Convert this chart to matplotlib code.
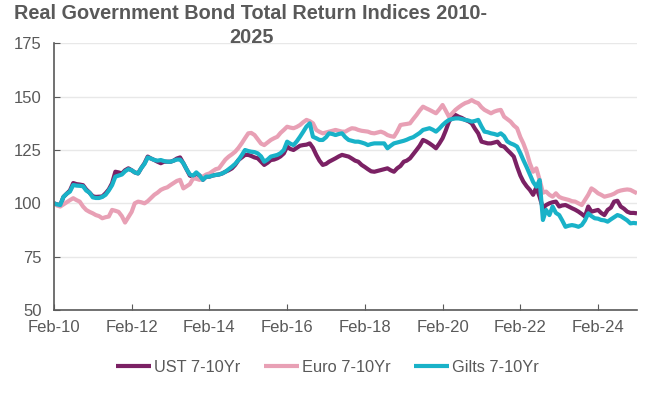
import pandas as pd
import matplotlib
matplotlib.use("Agg")
import matplotlib.pyplot as plt
import matplotlib.dates as mdates

# monthly index levels, Feb-10 .. Feb-25
ust = [100, 99.5, 99.2, 103, 104.5, 106, 109.5, 109, 108.8, 108.5, 106.5, 105,
       103.3, 103, 103.1, 103.2, 104.7, 106.5, 109.4, 114.8, 114.5, 114, 115.5, 116.4,
       115.5, 114.5, 114, 116.5, 118.8, 121.9, 121, 120.3, 119.5, 118.8, 119.5, 119.5,
       119.5, 120, 121, 121.5, 118.8, 116, 113, 112.5, 114, 113, 111, 112.5,
       112.5, 113, 113.3, 113.5, 114, 114.8, 115.5, 116.4, 118, 120.3, 121.5, 122.7,
       122.7, 122.2, 121.5, 121.1, 119.5, 118, 119, 120.3, 120.5, 121.1, 122, 123.4,
       126.6, 125.5, 125, 126, 127, 127.3, 127.5, 128.1, 126, 122.7, 120, 118,
       118.5, 119.5, 120.3, 121.1, 122, 122.7, 122.3, 121.9, 121, 120, 119.5, 118,
       117, 116, 115, 114.8, 115.2, 115.6, 116, 116.4, 115.5, 114.8, 116.4, 117.5,
       119.5, 120, 121.1, 123, 125, 127, 129.7, 129, 128.1, 127, 125.8, 128,
       130.5, 134, 138.3, 140.5, 141.4, 140.6, 140, 139.1, 138.5, 137.5, 135, 132.8,
       128.9, 128.5, 128.1, 128.1, 128.5, 128.9, 127, 126.6, 125, 123.5, 121.9, 117.2,
       113, 110.2, 108, 106.3, 104, 107.5, 103, 97.7, 99.2, 100, 100.5, 100.8,
       98.5, 99, 99.2, 98.5, 97.7, 97, 96.1, 95, 93.8, 98.5, 96.1, 96.5,
       96.9, 95.5, 94.5, 96.9, 98, 100.8, 101.2, 98.5, 97.5, 96.1, 95.5, 95.5,
       95.3]

euro = [100, 99, 98.5, 99.5, 100.5, 101.5, 102.4, 101.5, 100.8, 98.5, 96.9, 96,
        95.3, 94.5, 94, 93, 93.5, 93.8, 96.9, 96.5, 96, 94, 91, 93.5,
        96, 100, 100.8, 100.5, 100, 101, 102.5, 104, 105, 106.3, 107, 107.5,
        108.6, 109.5, 110.5, 111, 107, 108, 109, 111.7, 111.5, 111, 112.5, 113.5,
        114, 115, 116, 116.4, 118.5, 120.5, 121.9, 123, 124.2, 126, 128.1, 130.5,
        132.8, 133, 132, 130, 128, 127.3, 128.5, 129.7, 130.5, 131.2, 133, 134.4,
        135.9, 135.5, 135.2, 135.8, 136.7, 138, 139.1, 138.5, 137.5, 134.4, 133.5, 132.8,
        133.2, 133.6, 134, 134.4, 134, 133.6, 133.6, 134.5, 135.2, 135, 134.4, 134,
        133.8, 133.6, 133, 132.8, 133.2, 133.6, 133, 132, 131.5, 131.2, 133.6, 136.7,
        137, 137.2, 137.5, 139.5, 141.4, 143.5, 145.3, 144.5, 143.8, 143, 142.2, 144,
        146.1, 143.5, 140.6, 142.2, 143.8, 145, 146.1, 147, 147.5, 148.4, 147.5, 146.9,
        145, 143.8, 143, 142.2, 143, 143.5, 143.8, 140.6, 139.5, 138.3, 136.5, 135.2,
        131, 128.1, 124, 118.8, 114.8, 116.4, 111, 105, 105.5, 104, 103.1, 104.7,
        103, 102.4, 102, 101.6, 101, 100.8, 100, 99.2, 101.6, 104, 107, 106,
        104.7, 104, 103.1, 103.5, 103.9, 104.5, 105.5, 106, 106.3, 106.5, 106.3, 105.5,
        104.7]

gilts = [100, 99.5, 99.2, 103, 104.5, 105.5, 108.6, 108.3, 108.2, 108, 106, 105,
         102.8, 102.5, 102.5, 103, 104, 106, 108.5, 112.5, 113, 113.5, 115, 116,
         115.5, 114.5, 114, 116.5, 118.5, 121.5, 121, 120.3, 120, 120.3, 119.8, 119.5,
         119.5, 120, 120.5, 120.5, 118.8, 116, 113.5, 113, 114.5, 113, 111, 112.5,
         112.5, 113, 113.3, 113.5, 114, 114.8, 116, 117.2, 118.5, 120.3, 122.5, 125,
         124.5, 124.2, 124, 123.4, 122, 119.5, 120.5, 121.9, 122.3, 122.7, 123.5, 125,
         128.9, 128, 127.3, 129, 131.2, 133.5, 136, 137.5, 131.2, 130.5, 129.7, 129.7,
         131, 132.8, 132.5, 132, 132.5, 132.8, 131, 129.7, 129.3, 128.9, 128.9, 128.5,
         128, 127.3, 127.8, 128.1, 128.1, 128.1, 128.1, 125.8, 127, 128.1, 128.5, 128.9,
         129.3, 129.8, 130.5, 131, 132, 133, 134.4, 134.8, 135.2, 134.5, 133.6, 135,
         136.7, 138, 139.1, 139.5, 139.8, 139.8, 139.5, 139.1, 138.8, 138.3, 138.6, 139.1,
         136, 133.6, 133.3, 132.8, 132.5, 132, 132.8, 131.5, 129, 128.1, 127.5, 126.6,
         123.5, 120.3, 117, 113.5, 110, 107.8, 110.9, 92.2, 96.9, 94.5, 98.5, 95.5,
         94.5, 92, 89, 89.5, 89.8, 89.5, 89, 89.8, 92, 95.3, 94, 93,
         92.8, 92.2, 92, 91.4, 92.5, 93.5, 94.5, 94, 93, 92, 90.6, 90.8,
         90.6]

dates = pd.date_range("2010-02-01", periods=len(ust), freq="MS")
series_names = ["UST 7-10Yr", "Euro 7-10Yr", "Gilts 7-10Yr"]
colors = ["#7B2164", "#E8A0B5", "#19B2C8"]
grey = "#595959"

plt.rcParams["font.family"] = ["Liberation Sans", "DejaVu Sans"]

fig = plt.figure(figsize=(6.55, 3.93), dpi=100)
ax = fig.add_axes([0.0824, 0.2112, 0.8901, 0.6786])

for vals, name, c in zip([ust, euro, gilts], series_names, colors):
    ax.plot(dates, vals, color=c, lw=3.0, label=name, solid_capstyle="butt")

ax.set_ylim(50, 175)
ax.set_yticks([50, 75, 100, 125, 150, 175])
ax.set_xlim(dates[0], dates[-1])
ax.set_xticks(pd.date_range("2010-02-01", "2024-02-01", freq="24MS"))
ax.xaxis.set_major_formatter(mdates.DateFormatter("%b-%y"))

ax.grid(axis="y", color="#E8E8E8", lw=1)
ax.set_axisbelow(True)
for s in ["top", "right"]:
    ax.spines[s].set_visible(False)
for s in ["left", "bottom"]:
    ax.spines[s].set_color(grey)
    ax.spines[s].set_linewidth(1.2)
ax.tick_params(axis="both", direction="in", length=4, color=grey,
               labelcolor=grey, labelsize=12)
ax.tick_params(axis="y", pad=9)
ax.tick_params(axis="x", pad=7)

fig.text(0.022, 0.966, "Real Government Bond Total Return Indices 2010-",
         fontsize=14.3, fontweight="bold", color=grey, ha="left", va="center")
fig.text(0.384, 0.904, "2025", fontsize=14.3, fontweight="bold", color=grey,
         ha="center", va="center")

fig.legend(loc="center", bbox_to_anchor=(0.5, 0.066), ncol=3, frameon=False,
           fontsize=11.8, handlelength=2.15, handletextpad=0.2, columnspacing=1.4,
           labelcolor=grey)

fig.savefig("out.png", dpi=100)
